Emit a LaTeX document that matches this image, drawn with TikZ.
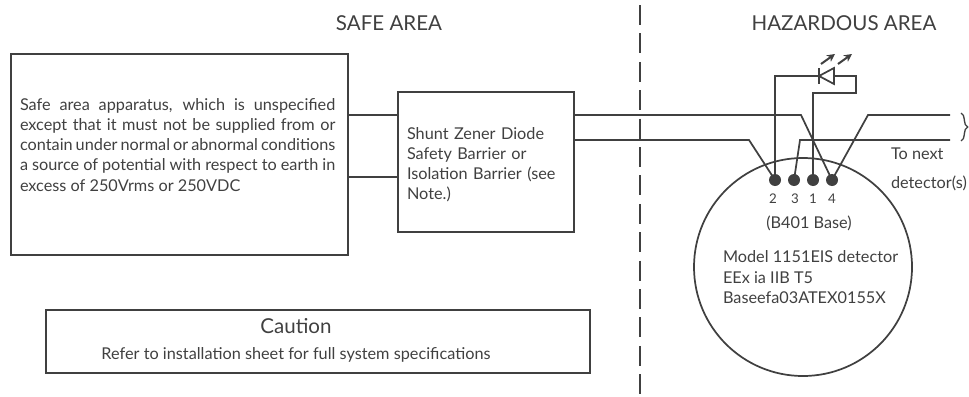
\documentclass[tikz,border=0pt]{standalone}
\usepackage{fontspec}
\setmainfont{Lato}
\usetikzlibrary{positioning}
\usetikzlibrary{arrows.meta}
\usetikzlibrary{decorations.pathreplacing}
\definecolor{ink}{gray}{0.25}

\tikzset{
    boxnode/.style={draw=ink, line width=1.5pt, inner sep=0pt, outer sep=0pt},
    wire/.style={draw=ink, line width=1.3pt},
    label/.style={text=ink, inner sep=0pt, outer sep=0pt, font=\fontsize{12.2}{15.1}\selectfont},
    heading/.style={label, font=\fontsize{15.4}{15}\selectfont},
    pin/.style={circle, fill=ink, inner sep=0pt, minimum size=9pt},
    pinlabel/.style={text=ink, inner sep=0pt, font=\fontsize{10}{10}\selectfont},
}

\begin{document}
\begin{tikzpicture}[x=0.75pt,y=-0.75pt]
                \useasboundingbox (0,0) rectangle (969,396);

                % Boxes
                \node[boxnode, minimum width=252.75pt, minimum height=150.75pt] (apparatus) at (179.5,154.5) {};
                \node[boxnode, minimum width=132pt, minimum height=105pt] (barrier) at (486,162) {};
                \node[boxnode, minimum width=408pt, minimum height=47.25pt] (caution) at (318,341.5) {};
                \node[circle, draw=ink, line width=1.3pt, inner sep=0pt, minimum size=163.5pt] (detector) at (803,267) {};

                % Terminals
                \node[pin] (t2) at (775,180) {};
                \node[pin] (t3) at (794,180) {};
                \node[pin] (t1) at (813,180) {};
                \node[pin] (t4) at (832,180) {};
                \node[pinlabel] (l2) at (773,199) {2};
                \node[pinlabel] (l3) at (795,199) {3};
                \node[pinlabel] (l1) at (813,199) {1};
                \node[pinlabel] (l4) at (832,199) {4};

                % Texts
                \node[heading] (safe) at (389,23) {SAFE AREA};
                \node[heading] (hazard) at (844,23) {HAZARDOUS AREA};
                \node[label, anchor=north west, text width=236.5pt, align=justify] (apptext) at (20,98.5) {Safe area apparatus, which is unspecified\linebreak except that it must not be supplied from or\linebreak contain under normal or abnormal conditions\linebreak a source of potential with respect to earth in\linebreak excess of 250Vrms or 250VDC};
                \node[label, anchor=north west, text width=130pt, align=left] (bartext) at (407,127.5) {Shunt Zener Diode\\Safety Barrier or\\Isolation Barrier (see\\Note.)};
                \node[heading] (cautitle) at (296,326) {Caution};
                \node[label] (cautext) at (296,355) {Refer to installation sheet for full system specifications};
                \node[label] (base) at (809,223) {(B401 Base)};
                \node[label, anchor=north west, align=left] (model) at (723,251) {Model 1151EIS detector\\EEx ia IIB T5\\Baseefa03ATEX0155X};
                \node[label, anchor=west] (next1) at (891,154) {To next};
                \node[label, anchor=west] (next2) at (891,183) {detector(s)};

                % Wire corners
                \node (a1) at (348,115) [coordinate] {};
                \node (a2) at (348,177) [coordinate] {};
                \node (b1) at (801,115) [coordinate] {};
                \node (b2) at (749,140) [coordinate] {};
                \node (b3) at (574,140) [coordinate] {};
                \node (c1) at (868,115) [coordinate] {};
                \node (c2) at (950,115) [coordinate] {};
                \node (d1) at (800,140) [coordinate] {};
                \node (d2) at (950,140) [coordinate] {};
                \node (e1) at (819,76) [coordinate] {};
                \node (e2) at (834,76) [coordinate] {};
                \node (e3) at (856,93) [coordinate] {};
                \node (top) at (640,5) [coordinate] {};
                \node (bottom) at (640,396) [coordinate] {};

                % Connection
                \draw[wire] (a1) -- (barrier.west |- a1);
                \draw[wire] (a2) -- (barrier.west |- a2);
                \draw[wire] (barrier.east |- b1) -- (b1) -- (t4.center);
                \draw[wire] (b3) -- (b2) -- (t2.center);
                \draw[wire] (t4.center) -- (c1) -- (c2);
                \draw[wire] (t3.center) -- (d1) -- (d2);
                \draw[wire] (t2.center) |- (e1);
                \draw[wire] (t1.center) |- (e3) |- (e2);

                % Diode
                \draw[wire, fill=white] (e2 |- 0,68) -- (e1) -- (e2 |- 0,84) -- cycle;
                \draw[wire] (e1 |- 0,68) -- (e1 |- 0,84);
                \draw[ink, line width=1.5pt, -{Stealth[length=6pt,width=6pt]}] (821,64) -- (835,54);
                \draw[ink, line width=1.5pt, -{Stealth[length=6pt,width=6pt]}] (838,64) -- (852,54);

                % Area divide and bracket
                \draw[ink, line width=1.2pt, dash pattern=on 15pt off 6.3pt] (top) -- (bottom);
                \draw[ink, line width=1pt, decorate, decoration={brace, amplitude=5pt}] (961,113) -- (961,141);
            \end{tikzpicture}
\end{document}
